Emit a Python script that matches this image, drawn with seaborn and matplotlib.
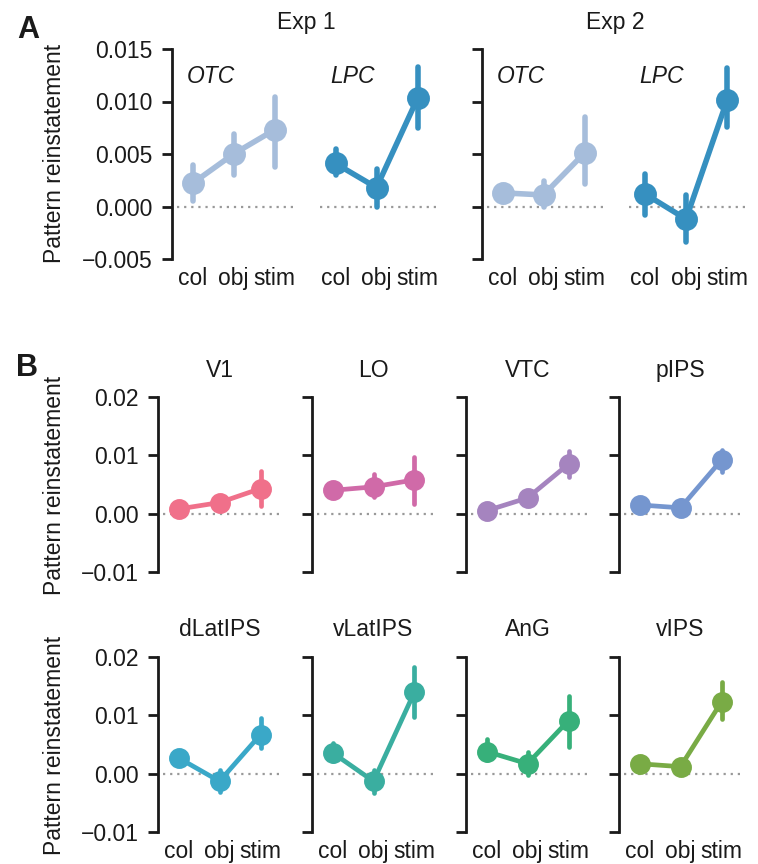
import matplotlib
matplotlib.use("Agg")
from matplotlib import pyplot as plt
import seaborn as sns
import pandas as pd

sns.set_style("ticks")
plt.rcParams['font.family'] = ['Liberation Sans', 'DejaVu Sans']
plt.rcParams['text.color'] = '#1a1a1a'
plt.rcParams['axes.labelcolor'] = '#1a1a1a'
plt.rcParams['xtick.color'] = '#1a1a1a'
plt.rcParams['ytick.color'] = '#1a1a1a'

W, H = 758, 864
conds = ['col', 'obj', 'stim']

# panel A: mean, lower and upper end of error bar
expA = ['Exp 1', 'Exp 2']
roisA = ['OTC', 'LPC']
colorsA = {'OTC': '#a6bddb', 'LPC': '#3690c0'}
meanA = {('Exp 1', 'OTC'): [0.0022, 0.0050, 0.0073],
         ('Exp 1', 'LPC'): [0.0041, 0.0018, 0.0103],
         ('Exp 2', 'OTC'): [0.0013, 0.0011, 0.0051],
         ('Exp 2', 'LPC'): [0.0012, -0.0012, 0.0101]}
loA = {('Exp 1', 'OTC'): [0.0005, 0.0030, 0.0038],
       ('Exp 1', 'LPC'): [0.0030, 0.0000, 0.0075],
       ('Exp 2', 'OTC'): [0.0011, 0.0000, 0.0021],
       ('Exp 2', 'LPC'): [-0.0008, -0.0034, 0.0076]}
hiA = {('Exp 1', 'OTC'): [0.0040, 0.0069, 0.0104],
       ('Exp 1', 'LPC'): [0.0055, 0.0036, 0.0133],
       ('Exp 2', 'OTC'): [0.0015, 0.0024, 0.0085],
       ('Exp 2', 'LPC'): [0.0031, 0.0011, 0.0132]}

# panel B
roisB = ['V1', 'LO', 'VTC', 'pIPS', 'dLatIPS', 'vLatIPS', 'AnG', 'vIPS']
colorsB = ['#f0708a', '#d06aa8', '#a584bf', '#7596cf',
           '#3aa8c8', '#3aaea0', '#37b07a', '#79ab45']
meanB = {'V1': [0.0008, 0.0019, 0.0043],
         'LO': [0.0040, 0.0046, 0.0058],
         'VTC': [0.0005, 0.0027, 0.0085],
         'pIPS': [0.0015, 0.0010, 0.0092],
         'dLatIPS': [0.0027, -0.0013, 0.0067],
         'vLatIPS': [0.0036, -0.0013, 0.0140],
         'AnG': [0.0038, 0.0017, 0.0091],
         'vIPS': [0.0017, 0.0012, 0.0123]}
loB = {'V1': [0.0002, 0.0011, 0.0013],
       'LO': [0.0035, 0.0028, 0.0017],
       'VTC': [0.0003, 0.0024, 0.0063],
       'pIPS': [0.0012, -0.0003, 0.0072],
       'dLatIPS': [0.0020, -0.0032, 0.0044],
       'vLatIPS': [0.0022, -0.0033, 0.0098],
       'AnG': [0.0023, -0.0003, 0.0046],
       'vIPS': [0.0008, 0.0009, 0.0093]}
hiB = {'V1': [0.0015, 0.0028, 0.0073],
       'LO': [0.0045, 0.0068, 0.0097],
       'VTC': [0.0007, 0.0030, 0.0107],
       'pIPS': [0.0018, 0.0024, 0.0110],
       'dLatIPS': [0.0033, 0.0006, 0.0096],
       'vLatIPS': [0.0053, 0.0007, 0.0183],
       'AnG': [0.0060, 0.0037, 0.0134],
       'vIPS': [0.0027, 0.0015, 0.0157]}


def px_axes(fig, left, top, width, height):
    return fig.add_axes([left / W, 1 - (top + height) / H, width / W, height / H])


def make_df(mean, lo, hi):
    # three values per condition: median gives the point, 100% interval the bar
    rows = []
    for c, m, l, h in zip(conds, mean, lo, hi):
        for v in (l, m, h):
            rows.append({'cond': c, 'value': v})
    return pd.DataFrame(rows)


def draw_panel(ax, df, color, ylim, yticks, spine=True, xlabels=True,
               ms=13, lw=3.6):
    sns.pointplot(data=df, x='cond', y='value', order=conds, estimator='median',
                  errorbar=('pi', 100), color=color, markersize=ms, linewidth=lw,
                  err_kws={'linewidth': lw}, ax=ax)
    ax.axhline(0, xmin=0.04, xmax=1, color='#999999', lw=1.6,
               ls=(0, (1, 2.2)), zorder=0)
    ax.set_xlim(-0.5, 2.5)
    ax.set_ylim(*ylim)
    ax.set_yticks(yticks)
    ax.set_xlabel('')
    ax.set_ylabel('')
    for s in ['top', 'right', 'bottom']:
        ax.spines[s].set_visible(False)
    ax.patch.set_alpha(0)
    if spine:
        ax.spines['left'].set_linewidth(2)
        ax.spines['left'].set_color('#1a1a1a')
        ax.spines['left'].set_bounds(ylim[0], ylim[1])
        ax.tick_params(axis='y', length=7, width=2, pad=7, labelsize=16.5)
    else:
        ax.spines['left'].set_visible(False)
        ax.tick_params(axis='y', length=0)
    ax.tick_params(axis='x', length=0, pad=6, labelsize=16.5)
    if not xlabels:
        ax.set_xticklabels([])


fig = plt.figure(figsize=(W / 100, H / 100), dpi=100)

# panel A
leftsA = {('Exp 1', 'OTC'): 172, ('Exp 1', 'LPC'): 315,
          ('Exp 2', 'OTC'): 482, ('Exp 2', 'LPC'): 624.5}
for e in expA:
    for r in roisA:
        ax = px_axes(fig, leftsA[(e, r)], 49, 123, 210)
        draw_panel(ax, make_df(meanA[(e, r)], loA[(e, r)], hiA[(e, r)]), colorsA[r],
                   (-0.005, 0.015), [-0.005, 0, 0.005, 0.01, 0.015],
                   spine=(r == 'OTC'), ms=13.5, lw=4)
        ax.set_yticklabels(['\u22120.005', '0.000', '0.005', '0.010', '0.015']
                           if (e == 'Exp 1' and r == 'OTC') else [])
        ax.text(15 / 123, 0.867, r, transform=ax.transAxes, style='italic',
                fontsize=16.5, va='center', ha='left')
fig.text(306 / W, 1 - 22 / H, 'Exp 1', ha='center', va='center', fontsize=16.5)
fig.text(615 / W, 1 - 22 / H, 'Exp 2', ha='center', va='center', fontsize=16.5)
fig.text(55 / W, 1 - 153 / H, 'Pattern reinstatement', rotation=90,
         ha='center', va='center', fontsize=16.5)

# panel B
leftsB = [158, 312, 466, 619]
topsB = [397, 657]
for i, r in enumerate(roisB):
    row, col = divmod(i, 4)
    ax = px_axes(fig, leftsB[col], topsB[row], 123, 175)
    draw_panel(ax, make_df(meanB[r], loB[r], hiB[r]), colorsB[i],
               (-0.01, 0.02), [-0.01, 0, 0.01, 0.02],
               xlabels=(row == 1), ms=12.5, lw=3.4)
    ax.set_yticklabels(['\u22120.01', '0.00', '0.01', '0.02'] if col == 0 else [])
    ax.text(0.5, 1 + 27 / 175, r, transform=ax.transAxes, ha='center',
            va='center', fontsize=16.5)
    if col == 0:
        fig.text(55 / W, 1 - (topsB[row] + 88) / H, 'Pattern reinstatement',
                 rotation=90, ha='center', va='center', fontsize=16.5)

fig.text(17 / W, 1 - 38 / H, 'A', fontsize=22, fontweight='bold')
fig.text(16 / W, 1 - 376 / H, 'B', fontsize=22, fontweight='bold')

fig.savefig('out.png', dpi=100)
